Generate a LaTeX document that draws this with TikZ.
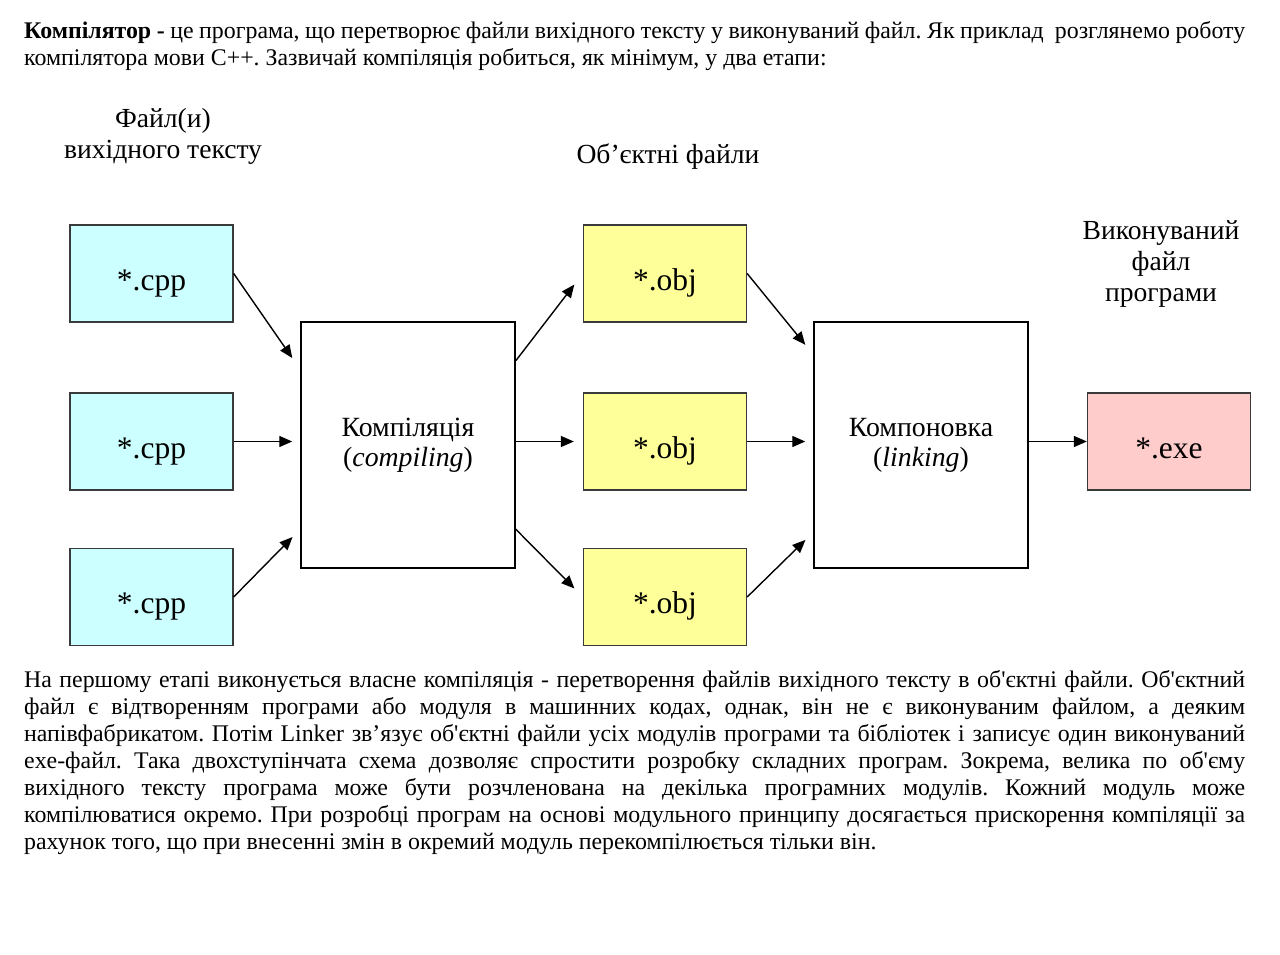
\documentclass[tikz,border=0pt]{standalone}
\usepackage{fontspec}
\setmainfont{Liberation Serif}
\newfontfamily\plainfont{Liberation Serif}
\usetikzlibrary{arrows.meta}
\definecolor{srccol}{HTML}{CCFFFF}
\definecolor{objcol}{HTML}{FFFF99}
\definecolor{execol}{HTML}{FFCCCC}
\definecolor{edgecol}{HTML}{3A3A3A}
\newcommand{\sq}{{\plainfont'}}
\tikzset{
	filebox/.style={draw=edgecol, line width=1.3pt, minimum width=163pt, minimum height=97pt, inner sep=0pt, text height=40pt, text depth=7pt, font=\fontsize{31.5}{34}\selectfont},
	srcbox/.style={filebox, fill=srccol},
	objbox/.style={filebox, fill=objcol},
	exebox/.style={filebox, fill=execol},
	stagebox/.style={draw=black, line width=1.5pt, minimum width=214pt, minimum height=246pt, inner sep=0pt, align=center, font=\fontsize{27.8}{30}\selectfont},
	lbl/.style={align=center, inner sep=0pt, font=\fontsize{27.6}{31}\selectfont},
	para/.style={anchor=north west, inner sep=0pt, text width=1221pt, align=justify, font=\fontsize{23.85}{27}\selectfont\frenchspacing},
	flow/.style={line width=1.4pt, -{Triangle[length=13pt,width=11pt]}}
}

\begin{document}
\begin{tikzpicture}[x=1pt, y=-1pt]
	\fill[white] (0,0) rectangle (1280,955);
	\useasboundingbox (0,0) rectangle (1280,955);

	\node[para] (intro) at (24,21) {\textbf{Компілятор -} це програма, що перетворює файли вихідного тексту у виконуваний файл. Як приклад\ \ розглянемо роботу\linebreak
	компілятора мови С++. Зазвичай компіляція робиться, як мінімум, у два етапи:};

	\node[lbl] (srclbl) at (163,136) {Файл(и)\\вихідного тексту};
	\node[lbl] (objlbl) at (668,157) {Об’єктні файли};
	\node[lbl] (exelbl) at (1161,264) {Виконуваний\\файл\\програми};

	\node[srcbox] (cpp1) at (151.5,273.5) {*.cpp};
	\node[srcbox] (cpp2) at (151.5,441.5) {*.cpp};
	\node[srcbox] (cpp3) at (151.5,597) {*.cpp};

	\node[stagebox] (comp) at (408,445) {Компіляція\\(\textit{compiling})};

	\node[objbox] (obj1) at (665,273.5) {*.obj};
	\node[objbox] (obj2) at (665,441.5) {*.obj};
	\node[objbox] (obj3) at (665,597) {*.obj};

	\node[stagebox] (link) at (921,445) {Компоновка\\(\textit{linking})};

	\node[exebox] (exe) at (1169,441.5) {*.exe};

	\draw[flow, shorten >=14pt] (cpp1.east) -- (comp.145.5);
	\draw[flow, shorten >=8pt] (cpp2.east) -- (cpp2.east -| comp.west);
	\draw[flow, shorten >=11pt] (cpp3.east) -- (comp.218);

	\draw[flow, shorten >=14pt] (comp.38.5) -- (obj1.west);
	\draw[flow, shorten >=9pt] (comp.east |- obj2.west) -- (obj2.west);
	\draw[flow, shorten >=12pt] (comp.-38.5) -- (obj3.west);

	\draw[flow, shorten >=12.6pt] (obj1.east) -- (link.140.6);
	\draw[flow, shorten >=8pt] (obj2.east) -- (obj2.east -| link.west);
	\draw[flow, shorten >=11pt] (obj3.east) -- (link.219);

	\draw[flow] (link.east |- exe.west) -- (exe.west);

	\node[para] (body) at (24,670) {На першому етапі виконується власне компіляція - перетворення файлів вихідного тексту в об\sq єктні файли. Об\sq єктний\linebreak
	файл є відтворенням програми або модуля в машинних кодах, однак, він не є виконуваним файлом, а деяким\linebreak
	напівфабрикатом. Потім Linker зв’язує об\sq єктні файли усіх модулів програми та бібліотек і записує один виконуваний\linebreak
	exe-файл. Така двохступінчата схема дозволяє спростити розробку складних програм. Зокрема, велика по об\sq єму\linebreak
	вихідного тексту програма може бути розчленована на декілька програмних модулів. Кожний модуль може\linebreak
	компілюватися окремо. При розробці програм на основі модульного принципу досягається прискорення компіляції за\linebreak
	рахунок того, що при внесенні змін в окремий модуль перекомпілюється тільки він.};
\end{tikzpicture}
\end{document}
